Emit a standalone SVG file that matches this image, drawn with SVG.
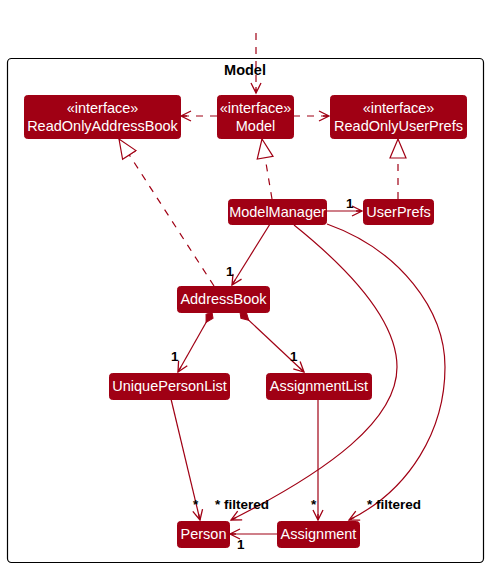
<svg xmlns="http://www.w3.org/2000/svg" width="488" height="568" viewBox="0 0 488 568">
<style>
.n{fill:#A00014;stroke:#A00014;stroke-width:1}
.t{fill:#fff;font-family:"Liberation Sans",Arial,sans-serif;font-size:14.5px;text-anchor:middle}
.l{fill:#000;font-family:"Liberation Sans",Arial,sans-serif;font-size:13.5px;font-weight:bold}
.c{fill:none;stroke:#A00014;stroke-width:1.2}
.d{stroke-dasharray:7,7}
</style>
<defs>
<marker id="a" markerWidth="14" markerHeight="12" refX="11" refY="6" orient="auto" markerUnits="userSpaceOnUse">
<path d="M1,1 L11,6 L1,11 M11,6 L5,6" fill="none" stroke="#A00014" stroke-width="1.3"/>
</marker>
<marker id="tri" markerWidth="24" markerHeight="24" refX="20" refY="12" orient="auto" markerUnits="userSpaceOnUse">
<path d="M20,12 L1,4 L1,20 Z" fill="#fff" stroke="#A00014" stroke-width="1.2"/>
</marker>
<marker id="dia" markerWidth="16" markerHeight="12" refX="1" refY="6" orient="auto" markerUnits="userSpaceOnUse">
<path d="M1,6 L6,2 L13,6 L6,10 Z" fill="#A00014" stroke="#A00014"/>
</marker>
</defs>
<rect x="7.5" y="58.5" width="476" height="504" rx="4" fill="none" stroke="#000" stroke-width="1.2"/>
<text x="245" y="75" font-family="'Liberation Sans',Arial,sans-serif" font-size="14.5" font-weight="bold" text-anchor="middle">Model</text>
<g id="connectors">
<path class="c d" d="M256,33 V93" marker-end="url(#a)"/>
<path class="c d" d="M217,116 H181" marker-end="url(#a)"/>
<path class="c d" d="M293,116 H329" marker-end="url(#a)"/>
<path class="c d" d="M272,199 L262,139" marker-end="url(#tri)"/>
<path class="c d" d="M214,286 L119,139" marker-end="url(#tri)"/>
<path class="c d" d="M398,199 V139" marker-end="url(#tri)"/>
<path class="c" d="M326,211 H362" marker-end="url(#a)"/>
<path class="c" d="M270,224 L232,285" marker-end="url(#a)"/>
<path class="c" d="M212,312 L178,372" marker-start="url(#dia)" marker-end="url(#a)"/>
<path class="c" d="M240,312 L304,372" marker-start="url(#dia)" marker-end="url(#a)"/>
<path class="c" d="M171,399 L200,520" marker-end="url(#a)"/>
<path class="c" d="M318,399 V520" marker-end="url(#a)"/>
<path class="c" d="M294,225 C350,270 397,320 397,367 C397,420 330,470 231,520" marker-end="url(#a)"/>
<path class="c" d="M327,224 C400,250 445,310 445,367 C445,430 410,490 349,520" marker-end="url(#a)"/>
<path class="c" d="M277,534 H230" marker-end="url(#a)"/>
<text class="l" x="346" y="208">1</text>
<text class="l" x="226" y="276">1</text>
<text class="l" x="171" y="361">1</text>
<text class="l" x="290" y="361">1</text>
<text class="l" x="193" y="509">*</text>
<text class="l" x="215" y="509">* filtered</text>
<text class="l" x="311" y="509">*</text>
<text class="l" x="367" y="509">* filtered</text>
<text class="l" x="237" y="549">1</text>
</g>
<g id="ReadOnlyAddressBook"><rect class="n" x="24.5" y="95.5" width="156" height="43" rx="3"/><text class="t" x="102.5" y="113">«interface»</text><text class="t" x="102.5" y="131">ReadOnlyAddressBook</text></g>
<g id="Model"><rect class="n" x="217.5" y="95.5" width="76" height="43" rx="3"/><text class="t" x="255.5" y="113">«interface»</text><text class="t" x="255.5" y="131">Model</text></g>
<g id="ReadOnlyUserPrefs"><rect class="n" x="330.5" y="95.5" width="136" height="43" rx="3"/><text class="t" x="398.5" y="113">«interface»</text><text class="t" x="398.5" y="131">ReadOnlyUserPrefs</text></g>
<g id="ModelManager"><rect class="n" x="228.5" y="199.5" width="98" height="25" rx="3"/><text class="t" x="277.5" y="217">ModelManager</text></g>
<g id="UserPrefs"><rect class="n" x="363.5" y="199.5" width="70" height="25" rx="3"/><text class="t" x="398.5" y="217">UserPrefs</text></g>
<g id="AddressBook"><rect class="n" x="177.5" y="286.5" width="92" height="26" rx="3"/><text class="t" x="223.5" y="304">AddressBook</text></g>
<g id="UniquePersonList"><rect class="n" x="109.5" y="373.5" width="120" height="26" rx="3"/><text class="t" x="169.5" y="391">UniquePersonList</text></g>
<g id="AssignmentList"><rect class="n" x="266.5" y="373.5" width="105" height="26" rx="3"/><text class="t" x="319" y="391">AssignmentList</text></g>
<g id="Person"><rect class="n" x="177.5" y="521.5" width="52" height="26" rx="3"/><text class="t" x="203.5" y="539">Person</text></g>
<g id="Assignment"><rect class="n" x="277.5" y="521.5" width="82" height="26" rx="3"/><text class="t" x="318.5" y="539">Assignment</text></g>
</svg>
